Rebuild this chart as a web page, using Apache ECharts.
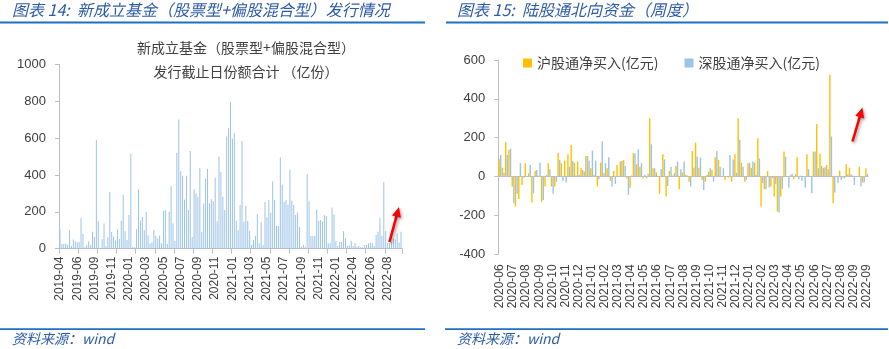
<!DOCTYPE html>
<html>
<head>
<meta charset="utf-8">
<script src="https://cdn.jsdelivr.net/npm/echarts@6/dist/echarts.min.js"></script>
<style>
  html, body { margin: 0; padding: 0; background: #fff; }
  #chart { width: 889px; height: 349px; }
</style>
</head>
<body>
<div id="chart"></div>
<script>
// Weekly issuance of new equity / equity-biased hybrid funds (100m units)
const fundTicks = ['2019-04','2019-06','2019-09','2019-11','2020-01','2020-03','2020-05','2020-07',
  '2020-09','2020-11','2021-01','2021-03','2021-05','2021-07','2021-09','2021-11','2022-01','2022-04',
  '2022-06','2022-08'];
const fundIssue = [
  105,25,25,28,22,100,15,50,40,35,38,165,80,8,20,40,20,92,65,590,
  150,5,52,137,15,62,307,90,65,45,105,52,152,293,95,47,183,515,8,8,
  107,323,152,172,100,199,72,28,35,102,70,55,72,28,205,210,25,200,338,137,
  42,520,700,420,395,265,395,210,530,63,323,300,280,437,90,245,380,432,245,268,
  257,385,147,500,416,282,210,608,653,797,598,629,150,100,237,584,146,231,150,98,
  20,47,69,188,29,143,20,253,170,264,195,365,264,123,123,495,347,253,264,239,
  430,260,237,183,195,116,11,20,11,405,257,69,69,69,213,152,155,148,181,177,
  29,29,224,186,42,15,36,36,94,56,15,18,43,15,29,10,15,8,8,20,
  20,29,34,29,15,74,92,168,70,360,96,29,29,38,56,50,83,33,92
];

// Weekly northbound net buying via Stock Connect (100m CNY)
const northTicks = ['2020-06','2020-07','2020-08','2020-09','2020-10','2020-11','2020-12',
  '2021-01','2021-02','2021-03','2021-04','2021-05','2021-06','2021-07','2021-08','2021-09',
  '2021-10','2021-11','2021-12','2022-01','2022-02','2022-03','2022-04','2022-05','2022-06',
  '2022-07','2022-08','2022-09','2022-09'];
const shConnect = [
  91,46,178,137,-51,-154,-115,-43,69,17,-134,29,5,-129,-51,69,-51,-51,123,69,
  82,115,163,72,77,46,26,106,43,9,-51,72,17,43,-22,29,60,77,86,-10,
  -57,120,63,51,-9,-9,300,43,22,-89,115,-103,29,5,55,-65,21,9,-26,132,
  175,46,-17,-26,26,34,99,86,3,-17,-5,-26,115,300,72,-26,69,46,72,197,
  -154,-65,29,-51,-103,-180,-103,129,3,9,-14,99,5,3,115,0,129,271,117,46,
  60,526,-137,3,31,-5,63,46,5,3,51,-31,43
];
const szConnect = [
  111,20,111,144,-137,-89,70,-5,3,60,-86,34,72,-120,8,38,-89,-26,86,-21,
  -31,51,81,5,10,34,106,82,134,82,-14,180,69,99,-51,-38,0,80,55,-94,
  5,120,141,69,10,14,166,43,3,39,89,-48,51,17,77,38,77,5,-51,46,
  103,98,-69,9,43,-26,132,51,43,2,111,86,20,189,51,-17,72,77,9,94,
  -34,-65,-55,-9,-40,-185,-63,103,-57,14,12,-14,-22,-57,38,-86,129,43,55,48,
  38,206,-82,-34,-17,-9,12,12,-43,2,-51,-31,14
];

const fundCats = fundIssue.map((_, i) => (i % 9 === 0 ? fundTicks[i / 9] : ''));
const northCats = shConnect.map((_, i) => (i % 4 === 0 ? northTicks[i / 4] : ''));

const LATIN = '"Liberation Sans", "Noto Sans CJK SC", sans-serif';
const CJK = '"Noto Sans CJK SC", sans-serif';
const HEAD_BLUE = '#2d5ca6';
const RULE_BLUE = '#1f6fc2';
const AXIS_GREY = '#bfbfbf';
const LABEL = '#404040';

// red annotation arrow from (x0,y0) to its tip (x1,y1)
function arrow(x0, y0, x1, y1) {
  const dx = x1 - x0, dy = y1 - y0, len = Math.hypot(dx, dy);
  const ux = dx / len, uy = dy / len, px = -uy, py = ux;
  const hl = 10, hw = 4.6;
  const bx = x1 - ux * hl, by = y1 - uy * hl;
  const shadow = { shadowBlur: 3, shadowColor: 'rgba(0,0,0,0.35)', shadowOffsetX: 1.5, shadowOffsetY: 1.5 };
  return [
    { type: 'line', shape: { x1: x0, y1: y0, x2: bx + ux, y2: by + uy },
      style: Object.assign({ stroke: '#ff0000', lineWidth: 2.6 }, shadow), z: 100 },
    { type: 'polygon', shape: { points: [[x1, y1], [bx + px * hw, by + py * hw], [bx - px * hw, by - py * hw]] },
      style: Object.assign({ fill: '#ff0000' }, shadow), z: 100 }
  ];
}

function headText(x, y, text) {
  return { type: 'text', x: x, y: y,
    style: { text: text, fill: HEAD_BLUE, font: 'italic 16px ' + CJK, verticalAlign: 'middle' } };
}
function rule(x, y, w, h) {
  return { type: 'rect', shape: { x: x, y: y, width: w, height: h }, style: { fill: RULE_BLUE } };
}

const chart = echarts.init(document.getElementById('chart'), null, { renderer: 'canvas' });

const yLabel = { color: LABEL, fontSize: 13, fontFamily: LATIN, margin: 13, formatter: (v) => String(v) };

chart.setOption({
  animation: false,
  backgroundColor: '#fff',
  title: {
    text: '新成立基金（股票型+偏股混合型）\n发行截止日份额合计 （亿份）',
    left: 246, top: 36, padding: 0, textAlign: 'center',
    textStyle: { fontSize: 14, fontWeight: 'normal', color: LABEL, fontFamily: CJK, lineHeight: 24 }
  },
  legend: {
    data: ['沪股通净买入(亿元)', '深股通净买入(亿元)'],
    left: 523, top: 56, padding: 0, icon: 'rect', itemWidth: 9, itemHeight: 9, itemGap: 26,
    textStyle: { fontSize: 14, color: LABEL, fontFamily: CJK }
  },
  grid: [
    { left: 59, top: 64.3, width: 343, height: 184.4 },
    { left: 498.3, top: 60, width: 370, height: 194.3 }
  ],
  xAxis: [
    {
      gridIndex: 0, type: 'category', data: fundCats, boundaryGap: true,
      axisLine: { lineStyle: { color: AXIS_GREY } },
      axisTick: { show: true, interval: 9, length: 5, lineStyle: { color: AXIS_GREY } },
      axisLabel: { interval: 8, rotate: 90, margin: 8, color: LABEL, fontSize: 12, fontFamily: LATIN }
    },
    {
      gridIndex: 1, type: 'category', data: northCats, boundaryGap: true,
      axisLine: { show: false, onZero: false },
      axisTick: { show: false },
      axisLabel: { interval: 3, rotate: 90, margin: 10, color: LABEL, fontSize: 12, fontFamily: LATIN }
    }
  ],
  yAxis: [
    {
      gridIndex: 0, type: 'value', min: 0, max: 1000, interval: 200,
      axisLine: { show: true, lineStyle: { color: AXIS_GREY } },
      axisTick: { show: true, length: 4, lineStyle: { color: AXIS_GREY } },
      splitLine: { show: false },
      axisLabel: yLabel
    },
    {
      gridIndex: 1, type: 'value', min: -400, max: 600, interval: 200,
      axisLine: { show: true, lineStyle: { color: AXIS_GREY } },
      axisTick: { show: true, length: 4, lineStyle: { color: AXIS_GREY } },
      splitLine: { show: false },
      axisLabel: yLabel
    }
  ],
  series: [
    {
      name: '新成立基金发行份额', type: 'bar', xAxisIndex: 0, yAxisIndex: 0,
      data: fundIssue, barWidth: 1, itemStyle: { color: '#9dc3e6' }
    },
    {
      name: '沪股通净买入(亿元)', type: 'bar', xAxisIndex: 1, yAxisIndex: 1,
      data: shConnect, barWidth: 1.4, barGap: '15%', itemStyle: { color: '#ffc000' },
      markLine: {
        silent: true, symbol: 'none', label: { show: false },
        lineStyle: { color: AXIS_GREY, width: 1, type: 'solid' },
        data: [{ yAxis: 0 }]
      }
    },
    {
      name: '深股通净买入(亿元)', type: 'bar', xAxisIndex: 1, yAxisIndex: 1,
      data: szConnect, barWidth: 1.4, barGap: '15%', itemStyle: { color: '#9dc3e6' }
    }
  ],
  graphic: [
    headText(12, 10, '图表 14:  新成立基金（股票型+偏股混合型）发行情况'),
    headText(457, 10, '图表 15:  陆股通北向资金（周度）'),
    rule(0, 21.5, 425, 2),
    rule(446, 21.5, 442, 2),
    rule(0, 328.3, 425, 1.6),
    rule(445, 328.3, 443, 1.6),
    { type: 'text', x: 12, y: 339, style: { text: '资料来源：wind', fill: HEAD_BLUE, font: 'italic 14px ' + CJK, verticalAlign: 'middle' } },
    { type: 'text', x: 457, y: 339, style: { text: '资料来源：wind', fill: HEAD_BLUE, font: 'italic 14px ' + CJK, verticalAlign: 'middle' } }
  ].concat(arrow(389.5, 242, 399, 207), arrow(852.5, 141.5, 862.5, 107.5))
});
</script>
</body>
</html>
